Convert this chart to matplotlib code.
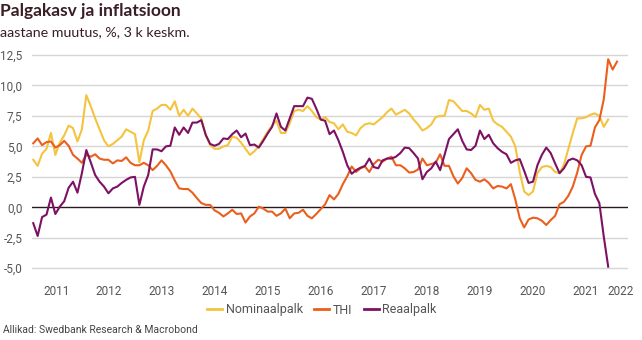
import numpy as np
import matplotlib.pyplot as plt
from matplotlib.lines import Line2D

# Andmed (kuu kaupa, veebr 2011 - dets 2021; THI kuni veebr 2022)
nominaalpalk = [
    3.9, 3.4, 4.4, 4.8, 6.1, 4.3, 5.3, 5.9, 6.7, 6.5, 5.4,
    6.4, 9.2, 8.3, 7.3, 6.4, 5.5, 5.0, 5.2, 5.5, 5.8, 6.4, 6.2,
    6.0, 3.7, 5.5, 6.3, 7.9, 8.1, 8.4, 8.4, 8.0, 8.7, 7.5, 8.0,
    7.5, 8.1, 7.7, 7.3, 5.9, 5.1, 4.8, 4.8, 5.0, 5.1, 5.8, 5.7,
    5.3, 4.8, 4.3, 4.6, 5.0, 5.6, 6.2, 6.7, 7.1, 6.1, 6.1, 6.9,
    7.9, 8.0, 7.9, 8.3, 7.9, 7.4, 7.2, 7.4, 7.0, 6.9, 6.4, 6.8,
    6.2, 6.1, 5.9, 6.5, 6.8, 6.9, 6.8, 7.1, 7.4, 7.8, 8.1, 7.6,
    7.8, 8.0, 7.7, 7.2, 6.8, 6.3, 6.5, 6.8, 7.4, 7.5, 7.5, 8.8,
    8.7, 8.3, 7.9, 7.9, 7.7, 7.4, 8.4, 8.0, 8.1, 7.1, 6.8, 6.6,
    6.2, 5.8, 5.0, 2.9, 1.3, 1.0, 1.3, 2.8, 3.3, 3.4, 3.3, 2.9,
    2.8, 3.5, 4.8, 6.1, 7.3, 7.3, 7.4, 7.6, 7.7, 7.5, 6.6, 7.2,
]
thi = [
    5.25, 5.65, 5.1, 5.35, 5.4, 4.9, 5.1, 5.45, 5.05, 4.3, 4.0,
    3.65, 4.3, 4.15, 4.35, 4.0, 3.9, 3.9, 3.6, 3.85, 3.8, 4.1, 3.65,
    3.45, 3.45, 3.65, 3.45, 3.05, 3.4, 3.85, 3.45, 2.95, 2.2, 1.55, 1.5,
    1.5, 1.2, 0.75, 0.35, 0.2, 0.2, -0.25, -0.45, -0.75, -0.5, -0.2, -0.55,
    -0.5, -1.25, -0.75, -0.5, 0.05, -0.1, -0.35, -0.35, -0.7, -0.5, -0.1, -0.9,
    -0.5, -0.45, -0.2, -0.7, -0.9, -0.55, -0.15, 0.25, 1.0, 0.65, 1.1, 1.9,
    2.55, 3.35, 2.9, 3.2, 3.35, 2.9, 3.55, 3.9, 3.75, 4.0, 4.15, 3.45,
    3.45, 3.2, 2.85, 2.9, 3.1, 4.0, 3.45, 3.55, 3.65, 4.35, 3.4, 3.4,
    2.55, 1.95, 2.4, 3.2, 2.8, 2.25, 2.1, 2.3, 2.0, 1.55, 1.75, 1.7,
    1.55, 1.9, 0.65, -0.9, -1.65, -1.0, -0.85, -0.9, -1.1, -1.45, -1.05, -0.7,
    0.25, 0.45, 0.95, 1.7, 2.85, 4.3, 5.0, 5.05, 6.55, 7.15, 8.85, 12.15,
    11.3, 11.95,
]
reaalpalk = [
    -1.3, -2.35, -0.8, -0.6, 0.8, -0.55, 0.05, 0.5, 1.6, 2.1, 1.2,
    2.8, 4.7, 3.7, 2.65, 2.1, 1.7, 1.15, 1.55, 1.7, 2.0, 2.25, 2.45,
    2.5, 0.2, 1.7, 2.65, 4.75, 4.75, 4.6, 5.0, 5.05, 6.55, 5.95, 6.55,
    6.1, 6.95, 6.95, 7.15, 5.95, 5.2, 5.05, 5.2, 5.65, 5.6, 6.0, 6.3,
    5.75, 6.05, 5.1, 5.15, 4.9, 5.45, 6.05, 6.6, 7.7, 6.6, 6.3, 7.3,
    8.3, 8.3, 8.3, 9.0, 8.9, 8.1, 7.2, 7.1, 6.0, 6.3, 5.5, 4.55,
    3.45, 2.75, 3.05, 3.25, 3.4, 4.0, 3.3, 3.2, 3.85, 4.0, 4.0, 4.15,
    4.45, 4.9, 4.85, 4.45, 4.0, 2.3, 2.9, 3.2, 3.75, 3.05, 4.3, 5.6,
    6.0, 6.4, 5.45, 4.75, 4.7, 5.05, 6.3, 5.6, 5.95, 5.25, 4.85, 4.55,
    4.35, 3.65, 3.85, 3.95, 3.0, 2.0, 2.1, 3.45, 4.3, 4.9, 4.45, 3.6,
    2.8, 3.2, 3.85, 4.0, 3.85, 3.45, 2.5, 2.45, 1.1, 0.35, -2.4, -4.87,
]
aastad = list(range(2011, 2023))
y_ticks = [-5.0, -2.5, 0.0, 2.5, 5.0, 7.5, 10.0, 12.5]

kollane = '#F4C33F'
oranz = '#EB5F1E'
lilla = '#7D1163'
tume = '#3A1E25'
hall = '#555555'

# kuud alates jaan 2011 (veebr 2011 = 1)
t_palk = 2011 + np.arange(1, len(nominaalpalk) + 1) / 12
t_thi = 2011 + np.arange(1, len(thi) + 1) / 12

fig = plt.figure(figsize=(6.42, 3.40), dpi=100)
ax = fig.add_axes([32 / 642, 1 - 270.7 / 340, 596 / 642, 218.2 / 340])

x0, x1 = 2011.06, 2022.29
ax.set_xlim(x0, x1)
ax.set_ylim(-5.2, 12.7)

for v in y_ticks:
    if v != 0:
        ax.axhline(v, color='#d6d6d6', lw=1.0, zorder=1)
ax.axhline(0, color='#2a1a1f', lw=1.0, zorder=2)

ax.plot(t_palk, nominaalpalk, color=kollane, lw=1.5, zorder=3, solid_joinstyle='round')
ax.plot(t_thi, thi, color=oranz, lw=1.5, zorder=4, solid_joinstyle='round')
ax.plot(t_palk, reaalpalk, color=lilla, lw=1.5, zorder=5, solid_joinstyle='round')

# aasta sildid keset nähtavat aastat
x_pos = [(max(a, x0) + min(a + 1, x1)) / 2 for a in aastad]
ax.set_xticks(x_pos)
ax.set_xticklabels([str(a) for a in aastad])
ax.set_yticks(y_ticks)
ax.set_yticklabels([f"{v:.1f}".replace('.', ',') for v in y_ticks])
ax.tick_params(length=0, labelsize=8.5, labelcolor=hall)
ax.tick_params(axis='x', pad=10)
ax.tick_params(axis='y', pad=7)
for lab in ax.get_xticklabels() + ax.get_yticklabels():
    lab.set_family('Roboto')
for s in ax.spines.values():
    s.set_visible(False)

fig.text(0.0, 1 - 16 / 340, 'Palgakasv ja inflatsioon', fontsize=12.5, fontweight='bold',
         family='Lato', color=tume, ha='left', va='baseline')
fig.text(0.0, 1 - 36 / 340, 'aastane muutus, %, 3 k keskm.', fontsize=10.3,
         family='Lato', color=tume, ha='left', va='baseline')

handles = [Line2D([], [], color=kollane, lw=2),
           Line2D([], [], color=oranz, lw=2),
           Line2D([], [], color=lilla, lw=2)]
fig.legend(handles, ['Nominaalpalk', 'THI', 'Reaalpalk'], loc='center',
           bbox_to_anchor=(322 / 642, 1 - 310 / 340), ncol=3, frameon=False,
           handlelength=1.2, handletextpad=0.3, columnspacing=0.9,
           prop={'family': 'Roboto', 'size': 9}, labelcolor=hall)

fig.text(3 / 642, 1 - 330 / 340, 'Allikad: Swedbank Research & Macrobond', fontsize=7.5,
         family='Roboto', color='#444444', ha='left', va='center')

fig.savefig('out.png', dpi=100)
